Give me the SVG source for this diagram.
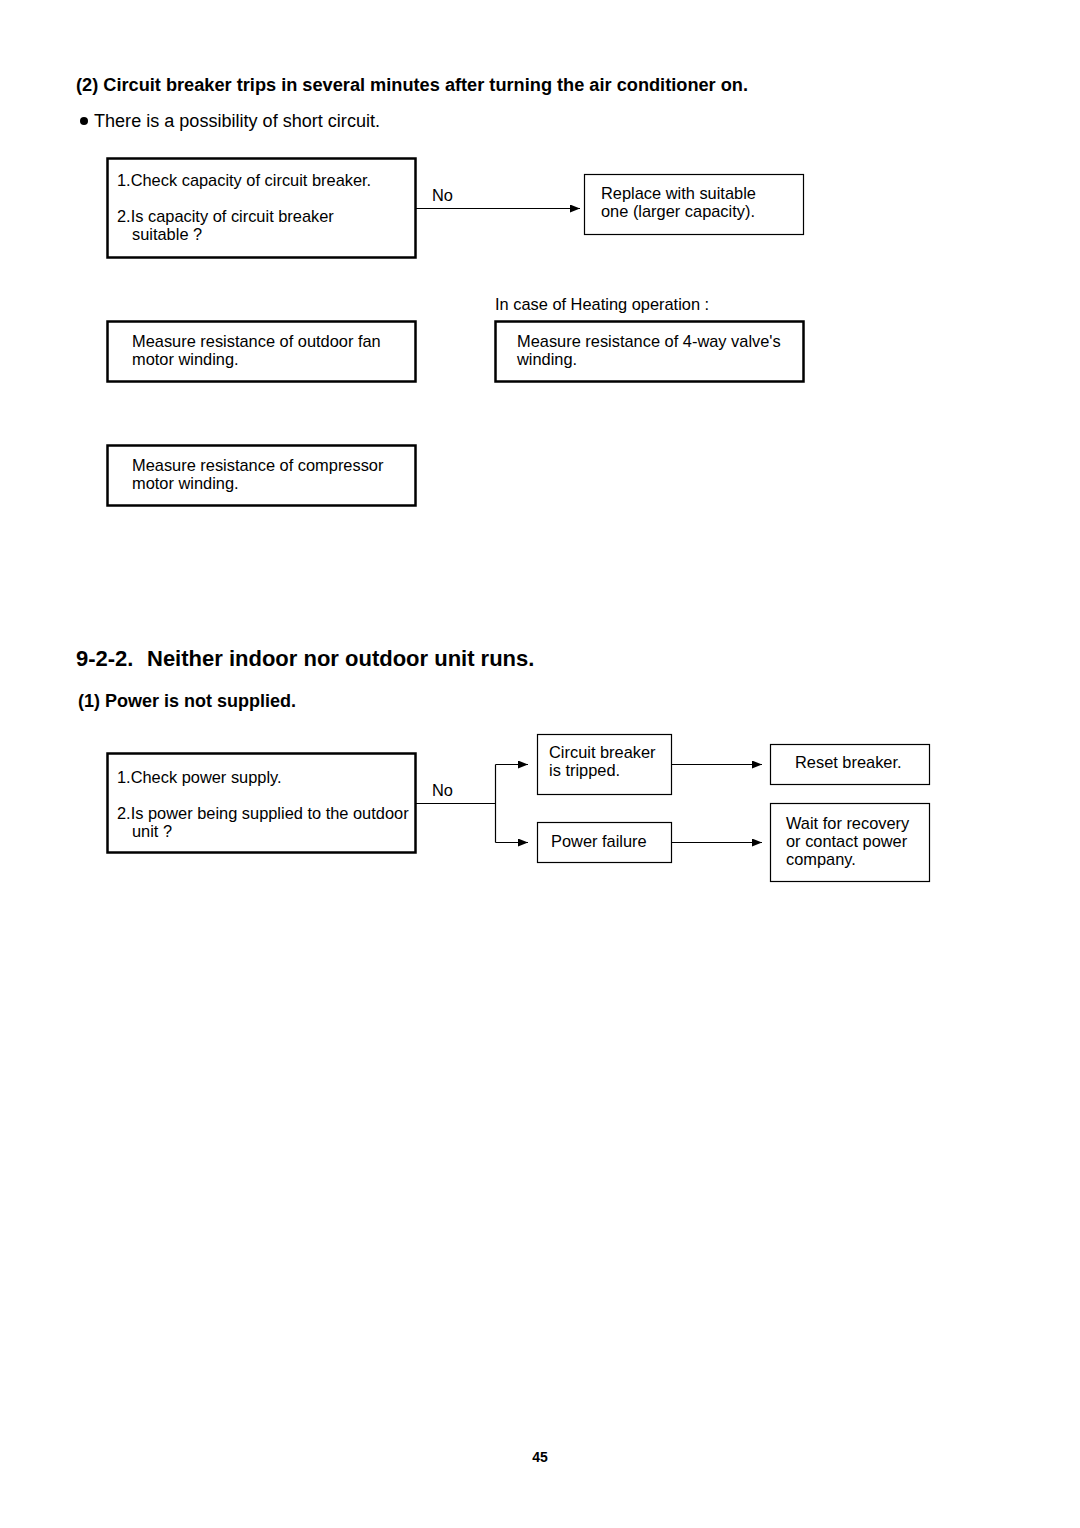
<svg xmlns="http://www.w3.org/2000/svg" width="1080" height="1528" viewBox="0 0 1080 1528">
<style>
text{font-family:"Liberation Sans",Arial,sans-serif;fill:#000}
.t{font-size:16.4px}
.h{font-size:18px;font-weight:bold}
.thick{fill:#fff;stroke:#000;stroke-width:2.5}
.thin{fill:#fff;stroke:#000;stroke-width:1.2}
.ln{fill:none;stroke:#000;stroke-width:1.2}
</style>
<defs>
<marker id="ah" viewBox="0 0 10 8" refX="10" refY="4" markerWidth="10" markerHeight="8" markerUnits="userSpaceOnUse" orient="auto">
<path d="M0,0 L10,4 L0,8 Z" fill="#000"/>
</marker>
</defs>
<rect width="1080" height="1528" fill="#fff"/>
<text class="h" x="76" y="91" textLength="672" lengthAdjust="spacingAndGlyphs">(2) Circuit breaker trips in several minutes after turning the air conditioner on.</text>
<circle cx="84" cy="121" r="4"/>
<text x="94" y="127" style="font-size:18px" textLength="286" lengthAdjust="spacingAndGlyphs">There is a possibility of short circuit.</text>

<g id="n1"><rect class="thick" x="107.5" y="158.5" width="308" height="99"/>
<text class="t" x="117" y="186">1.Check capacity of circuit breaker.</text>
<text class="t" x="117" y="222">2.Is capacity of circuit breaker</text>
<text class="t" x="132" y="240">suitable ?</text></g>
<g id="n2"><rect class="thin" x="584.5" y="174.5" width="219" height="60"/>
<text class="t" x="601" y="199">Replace with suitable</text>
<text class="t" x="601" y="217">one (larger capacity).</text></g>
<text class="t" x="495" y="310">In case of Heating operation :</text>
<g id="n3"><rect class="thick" x="107.5" y="321.5" width="308" height="60"/>
<text class="t" x="132" y="347">Measure resistance of outdoor fan</text>
<text class="t" x="132" y="365">motor winding.</text></g>
<g id="n4"><rect class="thick" x="495.5" y="321.5" width="308" height="60"/>
<text class="t" x="517" y="347">Measure resistance of 4-way valve's</text>
<text class="t" x="517" y="365">winding.</text></g>
<g id="n5"><rect class="thick" x="107.5" y="445.5" width="308" height="60"/>
<text class="t" x="132" y="471">Measure resistance of compressor</text>
<text class="t" x="132" y="489">motor winding.</text></g>

<text x="76" y="666" style="font-size:22px;font-weight:bold">9-2-2.<tspan x="147">Neither indoor nor outdoor unit runs.</tspan></text>
<text class="h" x="78" y="707">(1) Power is not supplied.</text>

<g id="n6"><rect class="thick" x="107.5" y="753.5" width="308" height="99"/>
<text class="t" x="117" y="783">1.Check power supply.</text>
<text class="t" x="117" y="819">2.Is power being supplied to the outdoor</text>
<text class="t" x="132" y="837">unit ?</text></g>
<g id="n7"><rect class="thin" x="537.5" y="734.5" width="134" height="60"/>
<text class="t" x="549" y="758">Circuit breaker</text>
<text class="t" x="549" y="776">is tripped.</text></g>
<g id="n8"><rect class="thin" x="537.5" y="822.5" width="134" height="40"/>
<text class="t" x="551" y="847">Power failure</text></g>
<g id="n9"><rect class="thin" x="770.5" y="744.5" width="159" height="40"/>
<text class="t" x="795" y="768">Reset breaker.</text></g>
<g id="n10"><rect class="thin" x="770.5" y="803.5" width="159" height="78"/>
<text class="t" x="786" y="829">Wait for recovery</text>
<text class="t" x="786" y="847">or contact power</text>
<text class="t" x="786" y="865">company.</text></g>

<g id="connectors">
<line class="ln" x1="416" y1="208.5" x2="580" y2="208.5" marker-end="url(#ah)"/>
<text class="t" x="432" y="201">No</text>
<polyline class="ln" points="416,803.5 495.5,803.5"/>
<polyline class="ln" points="495.5,764.5 495.5,842.5"/>
<line class="ln" x1="495.5" y1="764.5" x2="528" y2="764.5" marker-end="url(#ah)"/>
<line class="ln" x1="495.5" y1="842.5" x2="528" y2="842.5" marker-end="url(#ah)"/>
<text class="t" x="432" y="796">No</text>
<line class="ln" x1="671" y1="764.5" x2="762" y2="764.5" marker-end="url(#ah)"/>
<line class="ln" x1="671" y1="842.5" x2="762" y2="842.5" marker-end="url(#ah)"/>
</g>
<text x="540" y="1462" text-anchor="middle" style="font-size:14px;font-weight:bold">45</text>
</svg>
